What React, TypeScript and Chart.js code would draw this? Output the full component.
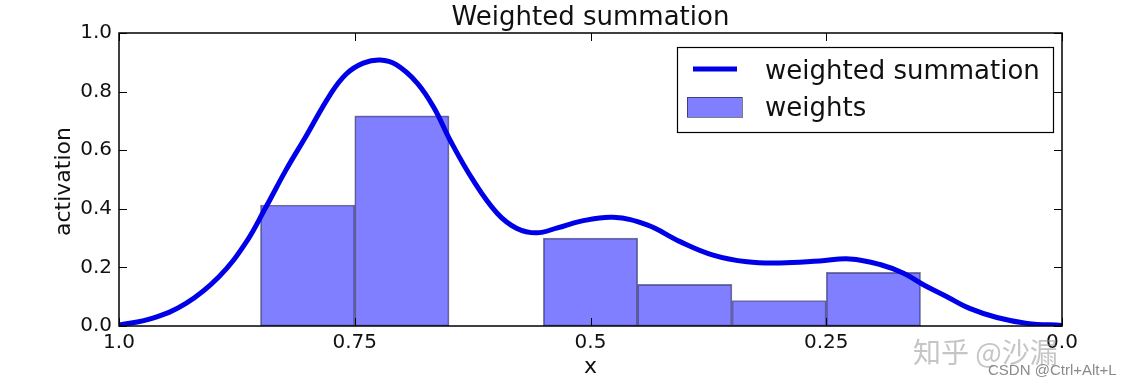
import React, { useEffect, useRef } from "react";
import { Chart, registerables } from "chart.js";

Chart.register(...registerables);

// ---- data ----
const curveX = [0.0, 0.037, 0.069, 0.098, 0.122, 0.147, 0.168, 0.193, 0.225, 0.257, 0.299, 0.334, 0.37, 0.405, 0.44, 0.476, 0.511, 0.535, 0.557, 0.578, 0.599, 0.624, 0.649, 0.666, 0.684, 0.706, 0.723, 0.741, 0.759, 0.776, 0.802, 0.823, 0.844, 0.866, 0.894, 0.929, 0.965, 1.0];
const curveY = [0.002, 0.009, 0.029, 0.06, 0.1, 0.141, 0.18, 0.21, 0.229, 0.222, 0.215, 0.219, 0.242, 0.288, 0.345, 0.371, 0.357, 0.335, 0.318, 0.333, 0.385, 0.495, 0.635, 0.745, 0.83, 0.892, 0.908, 0.897, 0.86, 0.79, 0.646, 0.532, 0.407, 0.282, 0.168, 0.077, 0.026, 0.003];
const barCenters = [0.8, 0.7, 0.5, 0.4, 0.3, 0.2];
const barHeights = [0.413, 0.717, 0.3, 0.142, 0.087, 0.183];
const xTickValues = [1.0, 0.75, 0.5, 0.25, 0.0];
const xTickLabels = ["1.0", "0.75", "0.5", "0.25", "0.0"];
const yTickValues = [0.0, 0.2, 0.4, 0.6, 0.8, 1.0];
const yTickLabels = ["0.0", "0.2", "0.4", "0.6", "0.8", "1.0"];
const seriesLabels = ["weighted summation", "weights"];
const titleText = "Weighted summation";
const xLabelText = "x";
const yLabelText = "activation";

const FONT = "'DejaVu Sans', sans-serif";
const LINE_COLOR = "#0000e8";
const BAR_FILL = "rgba(0,0,255,0.5)";
const BAR_EDGE = "rgba(0,0,0,0.5)";

const decorPlugin = {
  id: "decor",
  afterDraw(chart: any) {
    const { ctx, chartArea: a, scales } = chart;
    const xs = scales.x;
    const ys = scales.y;
    ctx.save();
    // frame
    ctx.strokeStyle = "#000";
    ctx.lineWidth = 1.5;
    ctx.strokeRect(a.left, a.top, a.right - a.left, a.bottom - a.top);
    // inward ticks
    ctx.lineWidth = 1;
    const seg = (x1: number, y1: number, x2: number, y2: number) => {
      ctx.beginPath();
      ctx.moveTo(x1, y1);
      ctx.lineTo(x2, y2);
      ctx.stroke();
    };
    for (const v of xTickValues) {
      const px = Math.round(xs.getPixelForValue(v)) + 0.5;
      seg(px, a.bottom, px, a.bottom - 8);
      seg(px, a.top, px, a.top + 8);
    }
    for (const v of yTickValues) {
      const py = Math.round(ys.getPixelForValue(v)) + 0.5;
      seg(a.left, py, a.left + 8, py);
      seg(a.right, py, a.right - 8, py);
    }
    // title
    const cx = (a.left + a.right) / 2;
    ctx.fillStyle = "#111";
    ctx.textAlign = "center";
    ctx.textBaseline = "alphabetic";
    ctx.font = `26px ${FONT}`;
    ctx.fillText(titleText, cx, 25);
    // x label
    ctx.font = `22px ${FONT}`;
    ctx.fillText(xLabelText, cx, 373);
    // y label
    ctx.save();
    ctx.translate(70, (a.top + a.bottom) / 2 + 2);
    ctx.rotate(-Math.PI / 2);
    ctx.fillText(yLabelText, 0, 0);
    ctx.restore();
    // legend
    const lx = a.right - 385;
    const ly = a.top + 14;
    const lw = 376;
    const lh = 85;
    ctx.fillStyle = "#fff";
    ctx.fillRect(lx, ly, lw, lh);
    ctx.strokeStyle = "#000";
    ctx.lineWidth = 1.2;
    ctx.strokeRect(lx + 0.5, ly + 0.5, lw, lh);
    ctx.strokeStyle = LINE_COLOR;
    ctx.lineWidth = 5;
    seg(lx + 16, ly + 22, lx + 60, ly + 22);
    ctx.fillStyle = BAR_FILL;
    ctx.fillRect(lx + 10, ly + 50, 55, 20);
    ctx.strokeStyle = BAR_EDGE;
    ctx.lineWidth = 1;
    ctx.strokeRect(lx + 10.5, ly + 50.5, 55, 20);
    ctx.fillStyle = "#111";
    ctx.textAlign = "left";
    ctx.font = `26px ${FONT}`;
    ctx.fillText(seriesLabels[0], lx + 88, ly + 32);
    ctx.fillText(seriesLabels[1], lx + 88, ly + 69);
    ctx.restore();
  },
};

export default function App() {
  const ref = useRef<HTMLCanvasElement | null>(null);
  useEffect(() => {
    if (!ref.current) return;
    const chart = new Chart(ref.current, {
      type: "bar",
      data: {
        datasets: [
          {
            type: "line",
            label: seriesLabels[0],
            data: curveX.map((x, i) => ({ x, y: curveY[i] })),
            borderColor: LINE_COLOR,
            borderWidth: 5,
            pointRadius: 0,
            tension: 0.4,
            fill: false,
            borderCapStyle: "round",
            borderJoinStyle: "round",
          } as any,
          {
            type: "bar",
            label: seriesLabels[1],
            data: barCenters.map((x, i) => ({ x, y: barHeights[i] })),
            backgroundColor: BAR_FILL,
            borderColor: BAR_EDGE,
            borderWidth: 1,
            borderSkipped: false,
            categoryPercentage: 1,
            barPercentage: 1,
          } as any,
        ],
      },
      options: {
        responsive: false,
        animation: false,
        layout: { padding: { left: 0, top: 33, right: 71, bottom: 0 } },
        plugins: { legend: { display: false }, tooltip: { enabled: false }, title: { display: false } },
        scales: {
          x: {
            type: "linear",
            reverse: true,
            min: 0,
            max: 1,
            offset: false,
            grid: { display: false, drawTicks: false },
            border: { display: false },
            afterBuildTicks: (s: any) => {
              s.ticks = xTickValues.map((v) => ({ value: v }));
            },
            afterFit: (s: any) => {
              s.height = 61;
            },
            ticks: {
              padding: 5,
              autoSkip: false,
              maxRotation: 0,
              color: "#111",
              font: { family: FONT, size: 20 },
              callback: (v: any) => xTickLabels[xTickValues.indexOf(Number(v))] ?? "",
            },
          },
          y: {
            type: "linear",
            min: 0,
            max: 1,
            grid: { display: false, drawTicks: false },
            border: { display: false },
            afterBuildTicks: (s: any) => {
              s.ticks = yTickValues.map((v) => ({ value: v }));
            },
            afterFit: (s: any) => {
              s.width = 119;
            },
            ticks: {
              padding: 7,
              color: "#111",
              font: { family: FONT, size: 20 },
              callback: (v: any) => yTickLabels[yTickValues.indexOf(Number(v))] ?? "",
            },
          },
        },
      } as any,
      plugins: [decorPlugin],
    });
    return () => chart.destroy();
  }, []);

  return (
    <div style={{ position: "absolute", left: 0, top: 0, width: 1133, height: 387, background: "#fff" }}>
      <canvas ref={ref} width={1133} height={387} style={{ position: "absolute", left: 0, top: 0 }} />
      <span
        style={{
          position: "absolute",
          left: 913,
          top: 333,
          fontFamily: "'Noto Sans CJK SC', sans-serif",
          fontSize: 28,
          color: "rgba(150,150,150,0.55)",
          whiteSpace: "nowrap",
          lineHeight: "36px",
        }}
      >
        知乎 @沙漏
      </span>
      <span
        style={{
          position: "absolute",
          left: 988,
          top: 361,
          fontFamily: "'Liberation Sans', Arial, sans-serif",
          fontSize: 15,
          color: "#8a8a8a",
          whiteSpace: "nowrap",
          lineHeight: "18px",
        }}
      >
        CSDN @Ctrl+Alt+L
      </span>
    </div>
  );
}
